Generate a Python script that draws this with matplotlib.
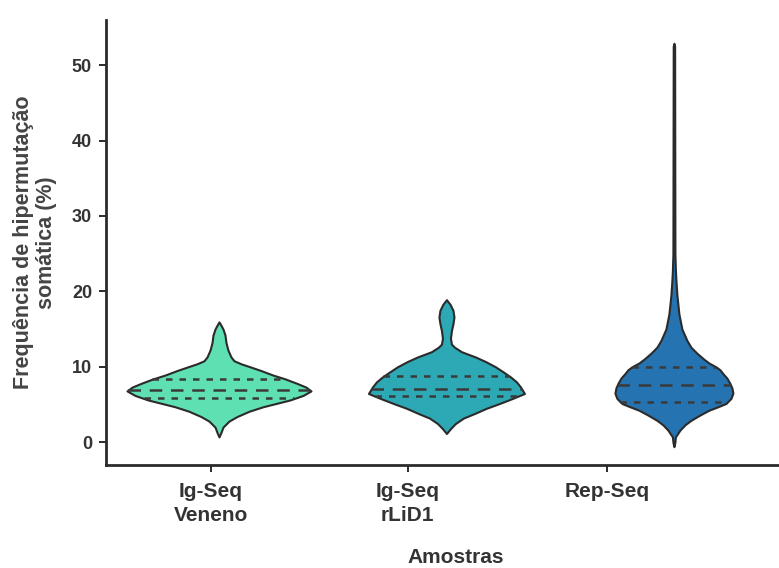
import numpy as np
import matplotlib
matplotlib.use('Agg')
import matplotlib.pyplot as plt

plt.rcParams['font.family'] = ['Liberation Sans', 'DejaVu Sans']
plt.rcParams['font.weight'] = 'bold'

# categorias / rotulos
categorias = ['Ig-Seq\nVeneno', 'Ig-Seq\nrLiD1', 'Rep-Seq']
pos_violino = [0, 1, 2]
pos_ticks = [-0.035, 0.83, 1.705]
cores = ['#5fe0b2', '#2da9b6', '#2573b1']

# perfil de densidade: nivel (%) e meia-largura (px)
v1_y = [0.7, 1.3, 2.0, 2.8, 3.4, 4.1, 4.7, 5.6, 6.2, 6.8, 7.3, 7.8, 8.4, 8.9, 9.5,
        10.0, 10.4, 10.8, 11.3, 12.2, 13.2, 14.2, 15.0, 15.5, 15.95]
v1_w = [0, 2, 4, 10, 18, 30, 44, 71, 84, 92, 87, 78, 66, 54, 42,
        31, 22, 15, 12, 9, 7, 6, 4, 2, 0]

v2_y = [1.15, 1.8, 2.48, 3.2, 3.8, 4.5, 5.13, 5.8, 6.46, 7.33, 8.0, 8.66, 9.3, 10.0,
        10.7, 11.3, 12.0, 12.6, 13.0, 13.8, 14.8, 15.7, 16.6, 17.5, 18.3, 18.9]
v2_w = [0, 4, 9, 17, 28, 40, 53, 66, 78, 74, 70, 64, 57, 49,
        39, 29, 15, 8, 5, 4, 5, 6.5, 7.5, 6.5, 3.5, 0]

v3_y = [-0.6, 0.0, 0.7, 1.6, 2.3, 2.9, 3.6, 4.24, 4.7, 5.13, 5.8, 6.5, 7.2, 7.8, 8.5,
        9.1, 9.6, 10.0, 10.5, 11.0, 11.8, 12.6, 13.5, 15.0, 17.0, 19.5, 21.5, 22.8,
        25.0, 52.5, 52.9]
v3_w = [0, 1, 1.5, 6, 11, 17, 26, 35, 44, 52, 57, 59, 58, 56, 53,
        49, 46, 42, 35, 30, 23, 17, 13, 8, 5, 3, 2, 1.5,
        1, 0.7, 0]

# quartis (Q1, mediana, Q3)
quartis = [[5.8, 6.9, 8.36],
           [6.1, 7.0, 8.75],
           [5.35, 7.56, 10.0]]

perfis = [(v1_y, v1_w), (v2_y, v2_w), (v3_y, v3_w)]
px_por_unidade = 227.5

fig = plt.figure(figsize=(7.79, 5.68), dpi=100)
ax = fig.add_axes([0.136, 0.181, 0.864, 0.784])

escuro = '#2b2b2b'
texto = '#333333'

for x0, (yy, ww), cor, q in zip(pos_violino, perfis, cores, quartis):
    yy = np.array(yy)
    ww = np.array(ww) / px_por_unidade
    ax.fill_betweenx(yy, x0 - ww, x0 + ww, facecolor=cor, edgecolor=escuro,
                     linewidth=1.5, zorder=2)
    for i, val in enumerate(q):
        meia = np.interp(val, yy, ww)
        estilo = (0, (5, 3.5)) if i == 1 else (0, (2.6, 2.8))
        ax.plot([x0 - meia, x0 + meia], [val, val], color='#3a3a3a',
                linestyle=estilo, linewidth=1.8, zorder=3)

ax.set_xlim(-0.497, 2.462)
ax.set_ylim(-3.05, 56)
ax.set_yticks([0, 10, 20, 30, 40, 50])
ax.set_xticks(pos_ticks)
ax.set_xticklabels(categorias, fontsize=15, fontweight='bold', color=texto,
                   linespacing=1.35)
for lab in ax.get_yticklabels():
    lab.set_fontsize(13)
    lab.set_fontweight('bold')
    lab.set_color(texto)

ax.tick_params(axis='both', direction='out', length=5, width=1.4, color=escuro)
ax.tick_params(axis='x', pad=7)
ax.tick_params(axis='y', pad=5)

for lado in ['top', 'right']:
    ax.spines[lado].set_visible(False)
for lado in ['left', 'bottom']:
    ax.spines[lado].set_linewidth(2)
    ax.spines[lado].set_color(escuro)

ax.set_ylabel('Frequência de hipermutação\nsomática (%)', fontsize=15.5,
              fontweight='bold', color='#444444', linespacing=1.15)
ax.yaxis.set_label_coords(-0.072, 0.5)
ax.set_xlabel('Amostras', fontsize=15, fontweight='bold', color=texto)
ax.xaxis.set_label_coords(0.519, -0.185)

fig.savefig('out.png', dpi=100)
